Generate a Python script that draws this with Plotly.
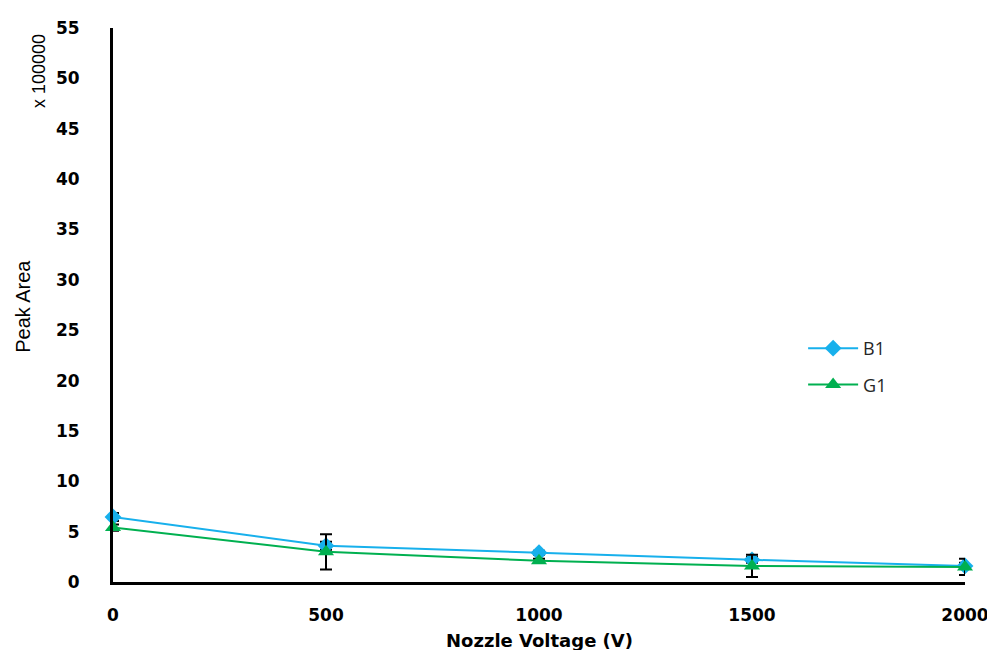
import plotly.graph_objects as go

voltage = [0, 500, 1000, 1500, 2000]
b1 = [6.45, 3.6, 2.9, 2.2, 1.6]
b1_err = [0.4, 0.4, 0.2, 0.3, 0.3]
g1 = [5.4, 3.0, 2.1, 1.6, 1.5]
g1_err = [0.3, 1.75, 0.2, 1.1, 0.8]
y_ticks = [0, 5, 10, 15, 20, 25, 30, 35, 40, 45, 50, 55]
x_ticks = [0, 500, 1000, 1500, 2000]

fig = go.Figure()
fig.add_trace(go.Scatter(
    x=voltage, y=b1, name="B1", mode="lines+markers", legendgroup="b",
    line=dict(color="#17B0EC", width=2),
    marker=dict(symbol="diamond", size=13, color="#17B0EC"),
    error_y=dict(type="data", array=b1_err, color="black", thickness=2, width=6),
    cliponaxis=False,
))
fig.add_trace(go.Scatter(
    x=voltage, y=g1, name="G1", mode="lines+markers", legendgroup="g",
    line=dict(color="#00B050", width=2),
    marker=dict(symbol="triangle-up", size=14, color="#00B050"),
    error_y=dict(type="data", array=g1_err, color="black", thickness=2, width=6),
    cliponaxis=False,
))

tick_font = dict(size=17, family="DejaVu Sans", weight="bold", color="black")

fig.update_layout(
    width=995, height=650,
    margin=dict(l=105, r=38, t=20, b=76),
    plot_bgcolor="white", paper_bgcolor="white",
    font=dict(family="Open Sans", color="black"),
    showlegend=True,
    legend=dict(x=0.81, y=0.455, xanchor="left", yanchor="top",
                font=dict(size=18, family="Open Sans", color="#262626"),
                tracegroupgap=10, itemwidth=50,
                bgcolor="rgba(0,0,0,0)"),
    xaxis=dict(
        range=[0, 2000], tickvals=x_ticks, showgrid=False, zeroline=False,
        showline=True, linecolor="black", linewidth=3, automargin=False,
        ticks="", ticklabelstandoff=16, tickfont=tick_font,
    ),
    yaxis=dict(
        range=[0, 55], tickvals=y_ticks, showgrid=False, zeroline=False,
        showline=True, linecolor="black", linewidth=3, automargin=False,
        ticks="", ticklabelstandoff=27, tickfont=tick_font,
    ),
    annotations=[
        dict(text="x 100000", xref="paper", yref="paper", x=-0.087, y=0.922,
             showarrow=False, textangle=-90, xanchor="center", yanchor="middle",
             font=dict(size=18, family="Liberation Sans Narrow, Liberation Sans", color="black")),
        dict(text="Peak Area", xref="paper", yref="paper", x=-0.106, y=0.498,
             showarrow=False, textangle=-90, xanchor="center", yanchor="middle",
             font=dict(size=20, family="Liberation Sans Narrow, Liberation Sans", color="black")),
        dict(text="<b>Nozzle Voltage (V)</b>", xref="paper", yref="paper", x=0.5, y=-0.106,
             showarrow=False, xanchor="center", yanchor="middle",
             font=dict(size=18, family="DejaVu Sans", color="black")),
    ],
)

fig.write_html("out.html")
